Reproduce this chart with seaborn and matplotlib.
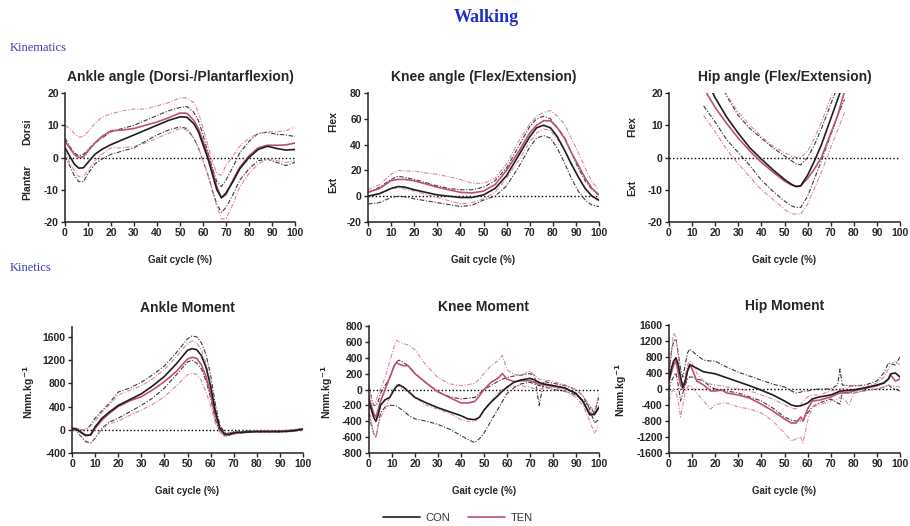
import matplotlib
matplotlib.use("Agg")
import matplotlib.pyplot as plt
import seaborn as sns
from matplotlib.lines import Line2D

# ---- data (gait cycle %, group means and +/- SD) ----
# Ankle angle (deg)
ank_ang_x = [0, 2, 4, 6, 8, 10, 13, 16, 20, 25, 30, 35, 40, 45, 50, 53, 56, 58, 60, 62,
             64, 66, 68, 70, 73, 76, 80, 84, 88, 92, 96, 100]
ank_ang_con = [3, 0.5, -2, -3.3, -3.2, -1.5, 1, 2.5, 4, 5.5, 7, 8.5, 10, 11.5, 12.6, 12.5, 10.5, 8, 4, 0,
               -5, -10, -12.5, -11, -7.5, -3.5, 0, 2.5, 3.5, 2.8, 2.3, 2.5]
ank_ang_con_hi = [6, 3.5, 1.5, 0.5, 1, 2.5, 4.5, 6, 8, 9, 10, 11.5, 13, 14.5, 15.5, 15.8, 14, 11.5, 7, 2,
                  -3, -7.5, -9, -7, -3, 1.5, 5, 7.5, 7.8, 7.2, 7, 6.5]
ank_ang_con_lo = [0.5, -2.5, -5.5, -7.5, -7.5, -5, -2, -0.5, 1, 2, 3, 5, 7, 8.5, 9.5, 9, 6, 3, -1, -5,
                  -10, -14.5, -17, -15.5, -11.5, -7, -3.5, -1, -0.5, -1.5, -2.5, -1.5]
ank_ang_ten = [5, 3, 1, 0, 0.2, 2, 4.5, 6.5, 8.3, 8.5, 9, 10, 11, 12.3, 13.8, 13.7, 11.5, 9, 5, 1,
               -4, -9, -12.5, -11.5, -7, -3, 0.5, 3, 3.8, 3.8, 3.9, 4.5]
ank_ang_ten_hi = [10, 9, 7.5, 6.3, 6.5, 8, 10.5, 12.5, 13.5, 14.5, 15, 15, 16, 17, 18.5, 18.5, 17, 14, 9, 4,
                  -1, -5, -5.5, -2.5, 0.5, 3.5, 6, 7.5, 8, 8, 8.3, 9.5]
ank_ang_ten_lo = [2, -1.5, -4, -6, -6, -4, -1, 1, 3, 3, 3.5, 4.5, 6, 7.5, 9, 8.5, 6, 3, -1, -5,
                  -10, -15, -19, -19, -14.5, -9, -5, -2, -0.5, -1, -1.5, -1]

# Knee angle (deg)
kne_ang_x = [0, 5, 10, 13, 16, 20, 25, 30, 35, 40, 45, 50, 55, 60, 65, 70, 73, 76, 79, 82,
             85, 88, 91, 94, 97, 100]
kne_ang_con = [0, 2, 6, 7.5, 7, 5, 3, 1, 0, -1, -1, 1, 6, 16, 31, 46, 53, 55, 53, 46,
               36, 25, 15, 6, 0, -3]
kne_ang_con_hi = [3, 7, 13, 15.5, 14.5, 13, 10.5, 8, 6, 5, 5, 7, 12, 22, 38, 54, 60, 62, 60, 53,
                  46, 34, 22, 12, 5, 1]
kne_ang_con_lo = [-6, -5, -1, 0, -0.5, -2, -3.5, -5, -6.5, -8, -7, -3, 0, 8, 22, 38, 45, 47, 45, 37,
                  26, 14, 4, -3, -7, -8]
kne_ang_ten = [3, 6, 12, 13, 13, 12, 9.5, 7, 5, 3, 2.5, 4, 9, 20, 34, 49, 55, 58.5, 58.5, 53,
               45, 34, 24, 14, 6, 1]
kne_ang_ten_hi = [5, 9, 17, 20, 19.5, 19.5, 18, 17, 15, 13, 10, 10, 14, 25, 42, 56, 62, 65, 66.5, 62,
                  56, 45, 34, 22, 11, 5]
kne_ang_ten_lo = [0, 2, 6, 6.5, 5.5, 4, 1.5, -1, -3.5, -6, -5, -2, 3, 14, 27, 42, 49, 52, 51, 44,
                  36, 26, 15, 6, 0, -4]

# Hip angle (deg)
hip_ang_x = [15, 20, 25, 30, 35, 40, 45, 50, 53, 55, 57, 60, 63, 66, 70, 73, 76]
hip_ang_con = [26, 18.5, 12.5, 7.5, 3, -0.5, -3.8, -6.8, -8.3, -9, -8.8, -5.5, -1, 4, 12, 18, 24]
hip_ang_con_hi = [33, 26, 19, 13, 9, 6, 3, 0.5, -1, -2, -2.3, 0, 4, 9, 16.5, 22, 27]
hip_ang_con_lo = [16, 11, 5.5, 1.5, -2.5, -7, -10.5, -13.5, -15, -15.5, -15.5, -12, -6.5, -1, 7, 13, 18]
hip_ang_ten = [21.5, 15.5, 10.5, 6, 2, -1.5, -4.5, -7.3, -8.5, -9, -8.8, -6.5, -3.5, 0, 7.5, 13, 20.5]
hip_ang_ten_hi = [33, 26.5, 19.5, 14, 10, 6.5, 3.5, 1.5, 0.5, 0, 0, 2, 6, 11, 18.5, 23, 28]
hip_ang_ten_lo = [13, 8, 2.5, -2, -6, -10, -13, -16, -17.5, -17.5, -17.5, -14.5, -9.5, -4.5, 3, 8.5, 14]

# Ankle moment (Nmm/kg)
ank_mom_x = [0, 2, 4, 6, 8, 10, 13, 16, 20, 25, 30, 35, 40, 45, 50, 52, 54, 56, 58, 60,
             62, 64, 66, 68, 70, 75, 80, 85, 90, 95, 100]
ank_mom_con = [20, 10, -50, -100, -90, 50, 200, 300, 420, 520, 620, 760, 920, 1130, 1370, 1400, 1380, 1280, 1080, 750,
               330, 30, -70, -80, -50, -40, -30, -30, -30, -20, 10]
ank_mom_con_hi = [30, 25, 0, 0, 80, 200, 330, 450, 650, 720, 820, 950, 1100, 1320, 1570, 1620, 1600, 1500, 1300, 950,
                  450, 80, -40, -60, -30, -20, -20, -20, -20, 0, 20]
ank_mom_con_lo = [10, -20, -120, -200, -230, -150, 30, 130, 200, 310, 420, 550, 720, 940, 1170, 1200, 1150, 1050, 850, 550,
                  180, -40, -100, -100, -70, -50, -40, -40, -40, -30, 0]
ank_mom_ten = [20, 10, -40, -90, -90, 20, 170, 280, 400, 500, 570, 690, 830, 1000, 1220, 1250, 1230, 1120, 920, 620,
               250, 0, -80, -90, -60, -40, -30, -30, -30, -20, 10]
ank_mom_ten_hi = [30, 20, 0, 10, 60, 150, 300, 420, 600, 680, 760, 880, 1040, 1250, 1490, 1530, 1500, 1380, 1150, 820,
                  350, 30, -60, -70, -40, -30, -20, -20, -20, 0, 20]
ank_mom_ten_lo = [10, -30, -130, -220, -230, -130, 20, 100, 150, 250, 340, 440, 570, 750, 950, 980, 950, 850, 650, 420,
                  120, -50, -110, -100, -70, -50, -40, -40, -40, -30, 0]

# Knee moment (Nmm/kg)
kne_mom_x = [0, 1, 2, 3, 4, 5, 7, 9, 11, 12, 13, 15, 17, 20, 25, 30, 35, 40, 43, 46,
             48, 50, 53, 56, 58, 60, 63, 66, 70, 72, 74, 76, 80, 85, 90, 93, 96, 98, 100]
kne_mom_con = [-150, -250, -350, -400, -320, -200, -130, -100, 0, 40, 60, 30, -20, -100, -170, -230, -280, -330, -370, -380,
               -350, -260, -160, -80, -20, 30, 90, 120, 140, 120, 90, 70, 50, 20, -50, -150, -320, -310, -220]
kne_mom_con_hi = [50, -100, -200, -200, -150, -50, 50, 150, 300, 350, 370, 340, 300, 200, 80, -30, -90, -120, -110, -100,
                  -50, 0, 50, 100, 130, 150, 170, 180, 200, 170, -200, 100, 80, 50, 0, -80, -250, -420, -380]
kne_mom_con_lo = [-300, -450, -550, -600, -450, -300, -220, -200, -200, -210, -230, -270, -320, -370, -400, -440, -500, -580, -630, -670,
                  -620, -550, -400, -250, -150, -50, 20, 70, 90, 70, 50, 40, 0, -20, -70, -130, -220, -300, -100]
kne_mom_ten = [-100, -200, -300, -350, -250, -150, 0, 150, 300, 340, 320, 300, 300, 200, 80, -30, -100, -170, -170, -150,
               -80, 0, 90, 140, 200, 130, 100, 110, 110, 90, 70, 60, 40, 20, -50, -150, -300, -320, -230]
kne_mom_ten_hi = [50, -100, -200, -150, -50, 0, 150, 350, 550, 620, 600, 580, 560, 500, 300, 150, 70, 50, 60, 80,
                  130, 200, 300, 360, 430, 250, 190, 180, 230, 180, 130, 120, 100, 60, 0, -80, -200, -280, -50]
kne_mom_ten_lo = [-200, -400, -550, -600, -450, -350, -250, -100, 30, 60, 40, 0, -40, -100, -200, -250, -300, -380, -400, -400,
                  -360, -250, -150, -50, 0, 20, 40, 50, 30, 10, 0, 20, 30, -10, -100, -200, -400, -550, -450]

# Hip moment (Nmm/kg)
hip_mom_x = [0, 1, 2, 3, 4, 5, 6, 7, 8, 9, 10, 12, 15, 18, 20, 23, 25, 30, 35, 40, 45,
             50, 53, 55, 57, 58, 60, 62, 65, 70, 73, 74, 75, 78, 80, 85, 90, 93, 95, 96, 98, 100]
hip_mom_con = [200, 500, 700, 780, 600, 300, 50, 200, 450, 600, 580, 520, 430, 400, 380, 320, 280, 180, 80, -30, -150,
               -300, -400, -430, -420, -400, -350, -250, -200, -150, -80, -50, -50, -30, -20, 30, 100, 150, 250, 380, 400, 300]
hip_mom_con_hi = [400, 900, 1200, 1250, 900, 500, 300, 600, 900, 1000, 950, 850, 720, 700, 700, 600, 550, 420, 320, 220, 120,
                  50, -50, -100, -80, -50, -50, -20, 0, 0, 100, 500, 100, 80, 80, 100, 200, 400, 650, 620, 600, 800]
hip_mom_con_lo = [0, 200, 300, 400, 100, -300, -100, 100, 250, 300, 300, 250, 200, 50, 0, -30, -50, -100, -200, -300, -480,
                  -700, -780, -800, -800, -800, -600, -450, -350, -250, -350, -380, -100, -100, -100, -30, 0, 50, 100, 50, 0, -50]
hip_mom_ten = [200, 400, 600, 700, 400, 100, 0, 150, 450, 620, 500, 200, 100, -50, -50, -30, -100, -150, -230, -380, -550,
               -750, -850, -850, -700, -800, -500, -300, -280, -200, -120, -100, -100, -80, -50, 20, 80, 150, 250, 350, 200, 250]
hip_mom_ten_hi = [300, 900, 1400, 1300, 800, 300, 0, 300, 600, 700, 650, 400, 200, 120, 100, 80, 50, 0, -50, -150, -250,
                  -400, -480, -500, -400, -300, -200, -150, -150, -50, -20, 0, 0, 50, 100, 50, 150, 300, 500, 600, 700, 600]
hip_mom_ten_lo = [-300, -100, 0, -100, -300, -700, -400, -100, 50, 100, 50, -100, -300, -500, -400, -350, -350, -450, -500, -600, -800,
                  -1100, -1300, -1250, -1200, -1350, -800, -450, -400, -300, -250, -200, -200, -400, -100, -50, 0, 50, 100, 80, 60, 50]

x_ticks = list(range(0, 101, 10))

# ---- styling ----
CON_COL = "#1e1e1e"
TEN_COL = "#c24f6c"
CON_SD_COL = "#3a3a3a"
TEN_SD_COL = "#d88a9d"
SD_STYLE = (0, (4, 1.5, 1, 1.5))

sns.set_style("ticks")
plt.rcParams["font.family"] = ["Liberation Sans", "DejaVu Sans"]
plt.rcParams["axes.unicode_minus"] = False

W, H = 910, 526
fig = plt.figure(figsize=(9.1, 5.26), dpi=100)


def ax_at(left, top, right, bottom):
    # pixel box -> figure fraction
    return fig.add_axes([left / W, 1 - bottom / H, (right - left) / W, (bottom - top) / H])


def draw_panel(ax, x, con, con_hi, con_lo, ten, ten_hi, ten_lo, title, ylim, yticks, pad):
    ax.axhline(0, color="black", lw=1.0, ls=(0, (1, 1.6)), zorder=1)
    for y in (con_hi, con_lo):
        sns.lineplot(x=x, y=y, ax=ax, color=CON_SD_COL, lw=0.8, linestyle=SD_STYLE)
    for y in (ten_hi, ten_lo):
        sns.lineplot(x=x, y=y, ax=ax, color=TEN_SD_COL, lw=0.8, linestyle=SD_STYLE)
    sns.lineplot(x=x, y=ten, ax=ax, color=TEN_COL, lw=1.2)
    sns.lineplot(x=x, y=con, ax=ax, color=CON_COL, lw=1.2)
    ax.set_xlim(0, 100)
    ax.set_ylim(*ylim)
    ax.set_xticks(x_ticks)
    ax.set_yticks(yticks)
    ax.set_title(title, fontsize=10, fontweight="bold", pad=pad)
    ax.set_xlabel("Gait cycle (%)", fontsize=7, fontweight="bold", labelpad=12)
    ax.set_ylabel("")
    sns.despine(ax=ax)
    for s in ("left", "bottom"):
        ax.spines[s].set_linewidth(1.1)
        ax.spines[s].set_color("#222222")
    ax.tick_params(direction="out", length=3, width=1, labelsize=7.5, pad=1.5)
    for lab in ax.get_xticklabels() + ax.get_yticklabels():
        lab.set_fontweight("bold")


ax1 = ax_at(65, 93, 295, 222)
draw_panel(ax1, ank_ang_x, ank_ang_con, ank_ang_con_hi, ank_ang_con_lo,
           ank_ang_ten, ank_ang_ten_hi, ank_ang_ten_lo,
           "Ankle angle (Dorsi-/Plantarflexion)", (-20, 20), [-20, -10, 0, 10, 20], 9)
ax2 = ax_at(368, 93, 599, 222)
draw_panel(ax2, kne_ang_x, kne_ang_con, kne_ang_con_hi, kne_ang_con_lo,
           kne_ang_ten, kne_ang_ten_hi, kne_ang_ten_lo,
           "Knee angle (Flex/Extension)", (-20, 80), [-20, 0, 20, 40, 60, 80], 9)
ax3 = ax_at(669, 93, 900, 222)
draw_panel(ax3, hip_ang_x, hip_ang_con, hip_ang_con_hi, hip_ang_con_lo,
           hip_ang_ten, hip_ang_ten_hi, hip_ang_ten_lo,
           "Hip angle (Flex/Extension)", (-20, 20), [-20, -10, 0, 10, 20], 9)
ax4 = ax_at(72, 327, 303, 453)
draw_panel(ax4, ank_mom_x, ank_mom_con, ank_mom_con_hi, ank_mom_con_lo,
           ank_mom_ten, ank_mom_ten_hi, ank_mom_ten_lo,
           "Ankle Moment", (-400, 1772), [-400, 0, 400, 800, 1200, 1600], 11)
ax5 = ax_at(369, 326, 599, 453)
draw_panel(ax5, kne_mom_x, kne_mom_con, kne_mom_con_hi, kne_mom_con_lo,
           kne_mom_ten, kne_mom_ten_hi, kne_mom_ten_lo,
           "Knee Moment", (-800, 800), list(range(-800, 801, 200)), 11)
ax6 = ax_at(669, 325, 900, 453)
draw_panel(ax6, hip_mom_x, hip_mom_con, hip_mom_con_hi, hip_mom_con_lo,
           hip_mom_ten, hip_mom_ten_hi, hip_mom_ten_lo,
           "Hip Moment", (-1600, 1600), list(range(-1600, 1601, 400)), 11)


def side_label(px, py, s):
    fig.text(px / W, 1 - py / H, s, rotation=90, ha="center", va="center",
             fontsize=7.5, fontweight="bold")


side_label(27, 132, "Dorsi")
side_label(27, 182, "Plantar")
side_label(333, 122, "Flex")
side_label(333, 185, "Ext")
side_label(632, 127, "Flex")
side_label(632, 188, "Ext")
moment_unit = r"Nmm.kg$^{\mathbf{-1}}$"
side_label(29, 392, moment_unit)
side_label(327, 392, moment_unit)
side_label(621, 390, moment_unit)

# headings
fig.text(486 / W, 1 - 17 / H, "Walking", ha="center", va="center", fontsize=13,
         fontweight="bold", color="#1c2fd0", family="Liberation Serif")
fig.text(10 / W, 1 - 48 / H, "Kinematics", ha="left", va="center", fontsize=9,
         color="#3a3ab8", family="Liberation Serif")
fig.text(10 / W, 1 - 268 / H, "Kinetics", ha="left", va="center", fontsize=9,
         color="#3a3ab8", family="Liberation Serif")

handles = [Line2D([], [], color=CON_COL, lw=1.2, label="CON"),
           Line2D([], [], color=TEN_COL, lw=1.2, label="TEN")]
leg = fig.legend(handles=handles, loc="center", bbox_to_anchor=(458 / W, 1 - 518 / H), ncol=2,
                 frameon=False, handlelength=3.3, fontsize=8, columnspacing=1.6, handletextpad=0.5)
for t in leg.get_texts():
    t.set_color("#333333")

fig.savefig("out.png", dpi=100)
